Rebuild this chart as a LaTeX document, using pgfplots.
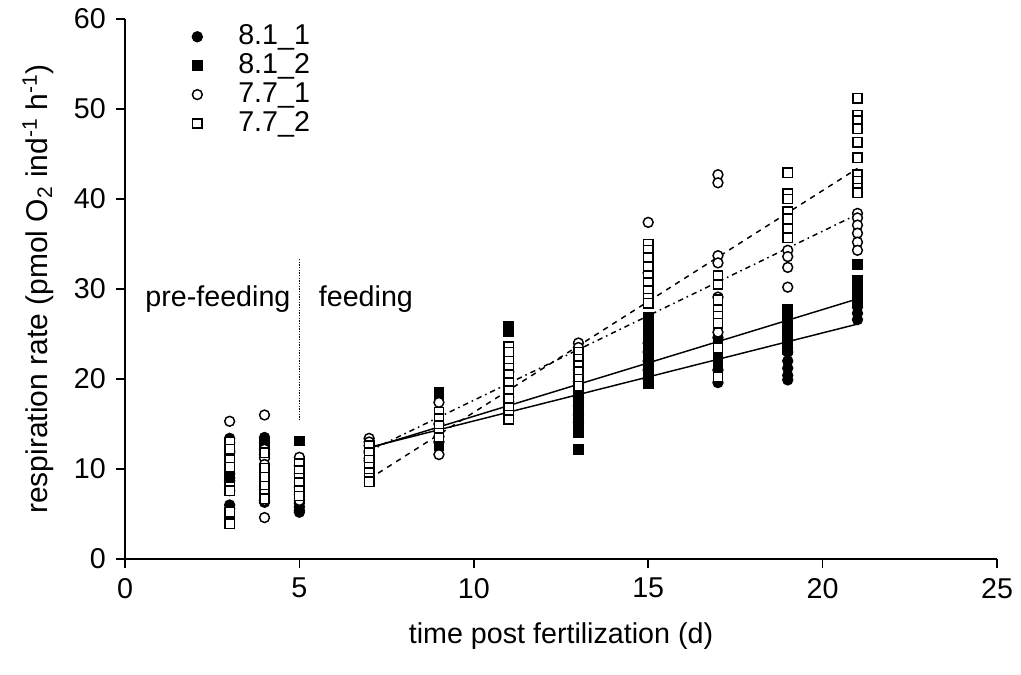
\documentclass[border=0pt]{standalone}
\usepackage{fontspec}
\setmainfont{Liberation Sans}
\usepackage{pgfplots}
\pgfplotsset{compat=1.18}
\begin{document}
\fontsize{21.5pt}{25pt}\selectfont
\begin{tikzpicture}
\begin{axis}[
  scale only axis, width=654pt, height=405pt,
  xmin=0, xmax=25, ymin=0, ymax=60,
  xtick={0,5,10,15,20,25}, ytick={0,10,20,30,40,50,60},
  axis x line*=bottom, axis y line*=left,
  axis line style={-, line width=1.1pt},
  tick style={line width=1.1pt, black},
  tick align=outside, major tick length=7pt,
  /pgf/number format/assume math mode=true,
  ticklabel style={font=\fontsize{21.5pt}{25pt}\selectfont},
  label style={font=\fontsize{21.5pt}{25pt}\selectfont},
  xlabel={time post fertilization (d)},
  ylabel={respiration rate (pmol O\textsubscript{2} ind\textsuperscript{-1} h\textsuperscript{-1})},
  xlabel style={yshift=-4pt},
  ylabel style={font=\fontsize{22.5pt}{25pt}\selectfont, yshift=1pt},
  legend style={draw=none, fill=none, at={(0.077,0.995)}, anchor=north west,
     font=\fontsize{21.5pt}{25pt}\selectfont, row sep=-0.5pt, column sep=25pt, inner sep=0pt},
  legend cell align=left,
  every axis plot/.append style={line width=1.1pt},
  clip=false,
]
% 8.1_1 filled circles
\addplot[only marks, mark=*, mark size=3.7pt, mark options={fill=black, draw=black}] coordinates {
(3,13.4)(3,12.9)(3,9.5)(3,9.0)(3,8.7)(3,6.0)(3,5.6)
(4,13.5)(4,12.9)(4,11.6)(4,6.3)
(5,6.2)(5,5.8)(5,5.4)(5,5.2)
(7,12.6)(7,11.8)(7,10.9)
(9,14.2)(9,13.6)(9,13.0)
(11,17.5)(11,16.5)
(13,18.0)(13,17.0)(13,16.0)(13,15.2)
(15,24.0)(15,23.0)(15,22.0)(15,21.0)(15,20.0)
(17,24.6)(17,21.0)(17,19.6)
(19,23.0)(19,22.0)(19,21.2)(19,20.4)(19,19.9)
(21,28.0)(21,27.3)(21,26.6)
};
\addlegendentry{8.1\_1}
% 8.1_2 filled squares
\addplot[only marks, mark=square*, mark size=3.5pt, mark options={fill=black, draw=black}] coordinates {
(3,9.3)(3,8.8)(3,9.8)
(4,12.8)(4,12.0)
(5,13.1)
(7,12.3)(7,11.2)
(9,18.5)(9,17.8)(9,12.6)
(11,25.8)(11,25.3)
(13,18.5)(13,17.5)(13,16.5)(13,15.5)(13,14.6)(13,14.0)(13,12.2)
(15,26.8)(15,26.0)(15,25.2)(15,24.5)(15,23.5)(15,22.5)(15,21.5)(15,20.5)(15,19.5)
(17,24.0)(17,23.2)(17,22.2)(17,21.6)
(19,27.7)(19,27.0)(19,26.2)(19,25.5)(19,24.8)(19,24.0)(19,23.3)
(21,32.7)(21,31.0)(21,30.2)(21,29.5)(21,28.5)
};
\addlegendentry{8.1\_2}
% 7.7_1 open circles
\addplot[only marks, mark=*, mark size=3.7pt, mark options={fill=white, draw=black}] coordinates {
(3,15.3)(3,12.0)(3,11.8)(3,7.6)
(4,16.0)(4,12.2)(4,11.2)(4,10.5)(4,6.5)(4,4.6)
(5,11.3)(5,10.4)(5,9.5)(5,8.0)(5,7.2)(5,6.5)
(7,13.4)(7,13.0)(7,12.0)(7,11.2)
(9,17.4)(9,15.0)(9,11.6)
(11,20.8)(11,19.2)(11,18.0)
(13,24.0)(13,23.5)(13,21.0)(13,19.7)
(15,37.4)(15,31.8)
(17,42.7)(17,41.8)(17,33.7)(17,32.9)(17,29.1)(17,25.2)
(19,34.3)(19,33.6)(19,32.4)(19,30.2)
(21,38.4)(21,37.9)(21,37.1)(21,36.2)(21,35.2)(21,34.3)
};
\addlegendentry{7.7\_1}
% 7.7_2 open squares
\addplot[only marks, mark=square*, mark size=3.5pt, mark options={fill=white, draw=black}] coordinates {
(3,13.0)(3,12.2)(3,11.0)(3,10.2)(3,8.0)(3,7.6)(3,5.2)(3,3.9)
(4,11.8)(4,10.1)(4,9.1)(4,8.1)(4,7.2)(4,6.7)
(5,10.6)(5,9.8)(5,9.0)(5,8.5)(5,7.6)(5,7.0)
(7,12.6)(7,11.8)(7,11.0)(7,10.2)(7,9.6)(7,9.0)(7,8.6)
(9,16.3)(9,15.6)(9,14.8)(9,14.0)(9,13.5)
(11,23.6)(11,23.0)(11,22.0)(11,21.2)(11,20.5)(11,19.6)(11,18.7)(11,17.8)(11,16.8)(11,16.0)(11,15.5)
(13,23.0)(13,22.2)(13,21.5)(13,20.8)(13,20.0)(13,19.2)
(15,35.0)(15,34.3)(15,33.5)(15,32.5)(15,31.5)(15,30.7)(15,29.8)(15,29.0)(15,28.4)
(17,31.5)(17,30.5)(17,28.8)(17,27.7)(17,27.0)(17,26.2)(17,23.4)(17,20.2)
(19,42.9)(19,40.6)(19,40.0)(19,38.6)(19,37.8)(19,36.7)(19,35.7)
(21,51.2)(21,49.3)(21,48.7)(21,47.8)(21,46.3)(21,44.6)(21,42.7)(21,42.0)(21,41.2)(21,40.7)
};
\addlegendentry{7.7\_2}
% regression lines
\addplot[forget plot, black, line width=1.1pt] coordinates {(7,12.3)(21,28.9)};
\addplot[forget plot, black, line width=1.1pt] coordinates {(7,12.4)(21,26.1)};
\addplot[forget plot, black, line width=1.1pt, dash pattern=on 4pt off 4pt] coordinates {(7,8.9)(21,43.4)};
\addplot[forget plot, black, line width=1.1pt, dash pattern=on 4pt off 3pt on 1.2pt off 3pt] coordinates {(7,12.0)(21,38.3)};
% divider
\addplot[forget plot, black, line width=1pt, densely dotted] coordinates {(5,15.4)(5,33.4)};
\node[anchor=base east, inner sep=0pt] at (axis cs:4.75,28.0) {pre-feeding};
\node[anchor=base west, inner sep=0pt] at (axis cs:5.55,28.0) {feeding};
\coordinate (ll) at (rel axis cs:0,0);
\coordinate (ur) at (rel axis cs:1,1);
\end{axis}
\pgfresetboundingbox
\path ([xshift=-93.75pt,yshift=-87pt]ll) rectangle ([xshift=18pt,yshift=14.25pt]ur);
\end{tikzpicture}
\end{document}
